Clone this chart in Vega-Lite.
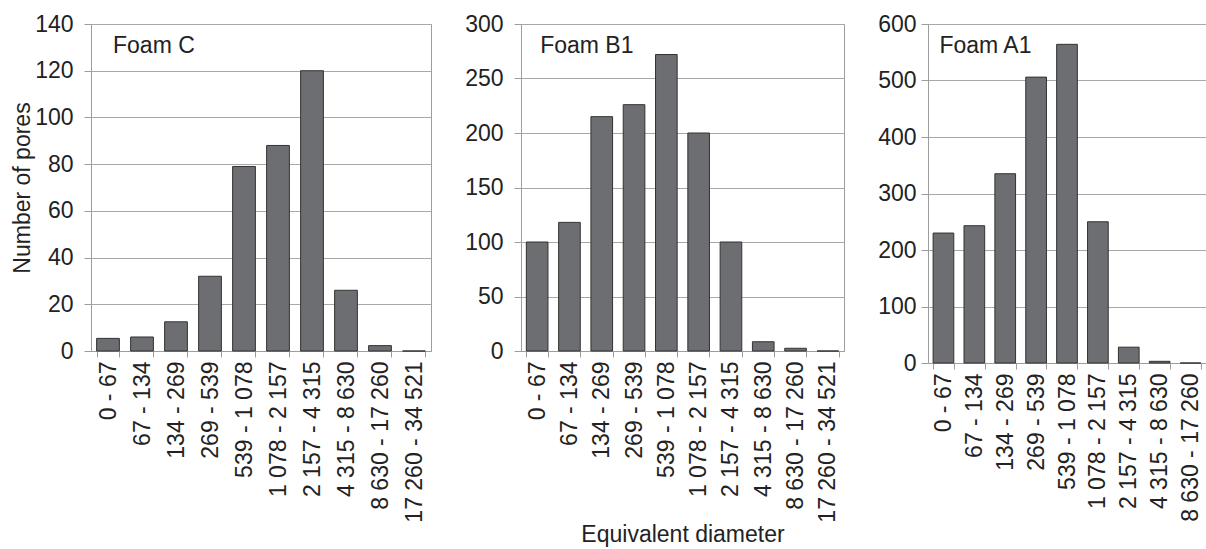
{
  "$schema": "https://vega.github.io/schema/vega-lite/v6.json",
  "padding": {"left": 11, "top": 12, "right": 0, "bottom": 0},
  "spacing": 32,
  "datasets": {
    "foamC": [
      {"range": "0 - 67", "pores": 5.4},
      {"range": "67 - 134", "pores": 6},
      {"range": "134 - 269", "pores": 12.5},
      {"range": "269 - 539", "pores": 32},
      {"range": "539 - 1 078", "pores": 79},
      {"range": "1 078 - 2 157", "pores": 88},
      {"range": "2 157 - 4 315", "pores": 120},
      {"range": "4 315 - 8 630", "pores": 26},
      {"range": "8 630 - 17 260", "pores": 2.3},
      {"range": "17 260 - 34 521", "pores": 0}
    ],
    "foamB1": [
      {"range": "0 - 67", "pores": 100},
      {"range": "67 - 134", "pores": 118},
      {"range": "134 - 269", "pores": 215},
      {"range": "269 - 539", "pores": 226},
      {"range": "539 - 1 078", "pores": 272},
      {"range": "1 078 - 2 157", "pores": 200},
      {"range": "2 157 - 4 315", "pores": 100},
      {"range": "4 315 - 8 630", "pores": 8.5},
      {"range": "8 630 - 17 260", "pores": 2.5},
      {"range": "17 260 - 34 521", "pores": 0}
    ],
    "foamA1": [
      {"range": "0 - 67", "pores": 230},
      {"range": "67 - 134", "pores": 243},
      {"range": "134 - 269", "pores": 335},
      {"range": "269 - 539", "pores": 506},
      {"range": "539 - 1 078", "pores": 564},
      {"range": "1 078 - 2 157", "pores": 250},
      {"range": "2 157 - 4 315", "pores": 28},
      {"range": "4 315 - 8 630", "pores": 3},
      {"range": "8 630 - 17 260", "pores": 0}
    ]
  },
  "hconcat": [
    {
      "width": 340,
      "height": 327,
      "encoding": {
        "x": {"field": "range", "type": "nominal", "sort": null,
              "scale": {"paddingInner": 0.33, "paddingOuter": 0.165},
              "axis": {"title": null}},
        "y": {"field": "pores", "type": "quantitative",
              "scale": {"domain": [0, 140], "nice": false},
              "axis": {"values": [0, 20, 40, 60, 80, 100, 120, 140], "title": "Number of pores", "titlePadding": 0}}
      },
      "layer": [
        {"data": {"name": "foamC"},
         "mark": {"type": "bar", "color": "#6d6e72", "stroke": "#333333", "strokeWidth": 1}},
        {"data": {"values": [{"label": "Foam C", "range": "0 - 67", "pores": 130.6}]},
         "mark": {"type": "text", "align": "left", "baseline": "middle", "dx": 5, "fontSize": 23, "color": "#222222", "font": "Liberation Sans"},
         "encoding": {"text": {"field": "label"}}}
      ]
    },
    {
      "width": 323,
      "height": 327,
      "encoding": {
        "x": {"field": "range", "type": "nominal", "sort": null,
              "scale": {"paddingInner": 0.33, "paddingOuter": 0.165},
              "axis": {"title": "Equivalent diameter", "titlePadding": 1}},
        "y": {"field": "pores", "type": "quantitative",
              "scale": {"domain": [0, 300], "nice": false},
              "axis": {"values": [0, 50, 100, 150, 200, 250, 300], "title": null}}
      },
      "layer": [
        {"data": {"name": "foamB1"},
         "mark": {"type": "bar", "color": "#6d6e72", "stroke": "#333333", "strokeWidth": 1}},
        {"data": {"values": [{"label": "Foam B1", "range": "0 - 67", "pores": 280}]},
         "mark": {"type": "text", "align": "left", "baseline": "middle", "dx": 3, "fontSize": 23, "color": "#222222", "font": "Liberation Sans"},
         "encoding": {"text": {"field": "label"}}}
      ]
    },
    {
      "width": 278,
      "height": 339,
      "encoding": {
        "x": {"field": "range", "type": "nominal", "sort": null,
              "scale": {"paddingInner": 0.33, "paddingOuter": 0.165},
              "axis": {"title": null}},
        "y": {"field": "pores", "type": "quantitative",
              "scale": {"domain": [0, 600], "nice": false},
              "axis": {"values": [0, 100, 200, 300, 400, 500, 600], "title": null, "labelPadding": 5}}
      },
      "layer": [
        {"data": {"name": "foamA1"},
         "mark": {"type": "bar", "color": "#6d6e72", "stroke": "#333333", "strokeWidth": 1}},
        {"data": {"values": [{"label": "Foam A1", "range": "0 - 67", "pores": 561}]},
         "mark": {"type": "text", "align": "left", "baseline": "middle", "dx": -4, "fontSize": 23, "color": "#222222", "font": "Liberation Sans"},
         "encoding": {"text": {"field": "label"}}}
      ]
    }
  ],
  "config": {
    "font": "Liberation Sans",
    "view": {"stroke": "#9d9d9d", "strokeWidth": 1},
    "axis": {
      "labelFont": "Liberation Sans", "labelFontSize": 23, "labelColor": "#222222",
      "titleFont": "Liberation Sans", "titleFontSize": 23, "titleFontWeight": "normal", "titleColor": "#222222",
      "domainColor": "#9d9d9d", "tickColor": "#9d9d9d", "gridColor": "#a8a8a8", "gridOpacity": 1
    },
    "axisX": {"grid": false, "tickBand": "extent", "tickSize": 6, "labelAngle": 270, "labelPadding": 4, "labelLimit": 0},
    "axisY": {"grid": true, "tickSize": 7, "labelPadding": 11}
  }
}
